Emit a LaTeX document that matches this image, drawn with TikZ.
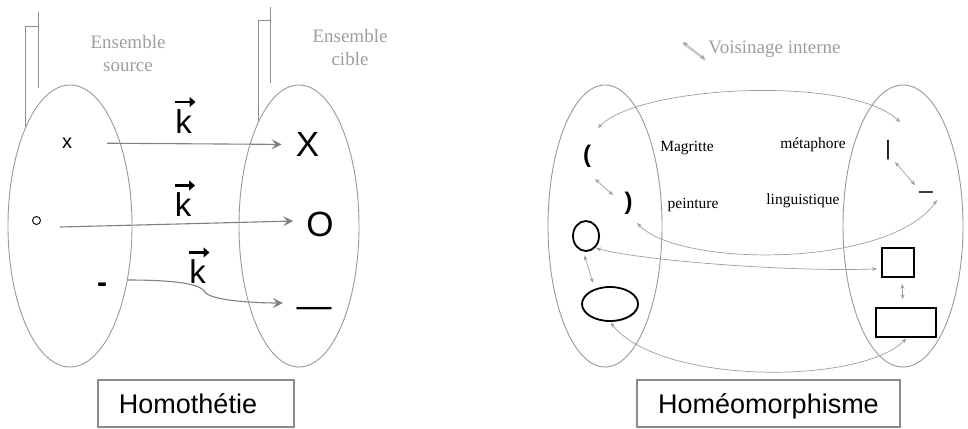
\documentclass[tikz,border=0pt]{standalone}
\usepackage{fontspec}
\setmainfont{Liberation Serif}
\setsansfont{Liberation Sans}
\usetikzlibrary{shapes.geometric,arrows.meta,shadows}
\begin{document}
\begin{tikzpicture}[x=1pt,y=-1pt,
  every node/.style={inner sep=0pt},
  setline/.style={draw=black!40, line width=0.9pt},
  callout/.style={draw=black!45, line width=1pt},
  lbl/.style={text=black!38, font=\fontsize{19}{23}\selectfont, align=center},
  garrow/.style={draw=black!50, line width=1.1pt, -{Stealth[length=10pt,width=10pt,inset=4pt]}},
  vecarrow/.style={line width=2.4pt, -{Triangle[length=6pt,width=10pt]}},
  kstyle/.style={font=\sffamily\fontsize{33}{33}\selectfont},
  big/.style={font=\sffamily\fontsize{35}{35}\selectfont},
  darrow/.style={draw=black!38, line width=0.7pt, {Stealth[length=5pt,width=4pt]}-{Stealth[length=5pt,width=4pt]}},
  word/.style={font=\fontsize{15.5}{17}\selectfont},
  symb/.style={font=\sffamily\fontsize{21}{21}\selectfont},
  paren/.style={font=\sffamily\bfseries\fontsize{24}{24}\selectfont},
  shapeline/.style={draw=black, fill=white, line width=1.8pt, drop shadow={opacity=0.18, shadow xshift=1.2pt, shadow yshift=-1.2pt}},
  titlebox/.style={draw=black!45, line width=1.2pt, font=\sffamily\fontsize{27}{27}\selectfont, text height=19.5pt, text depth=0pt}
]
\useasboundingbox (0,0) rectangle (968,428);

% ---------- Homothetie ----------
\node[ellipse, setline, minimum width=124pt, minimum height=282pt] (LA) at (70,226) {};
\node[ellipse, setline, minimum width=120pt, minimum height=282pt] (LB) at (299,226) {};

\draw[callout] (38,12) -- (38,88);
\draw[callout] (38,27) -- (25,27) -- (25,127);
\draw[callout] (270,7) -- (270,83);
\draw[callout] (270,21) -- (258,21) -- (258,121);

\node[lbl] (src) at (128,54) {Ensemble\\source};
\node[lbl] (tgt) at (350,47.5) {Ensemble\\cible};

\node[font=\sffamily\fontsize{20}{20}\selectfont] (sx) at (67,143) {x};
\node[big] (tX) at (307.5,144.5) {X};
\draw[garrow, shorten <=35pt, shorten >=14pt] (sx.east) -- (tX.west);

\node[draw, circle, minimum size=8pt, line width=0.9pt] (so) at (36.5,220.5) {};
\node[big] (tO) at (320,224) {O};
\draw[garrow] ([xshift=19pt,yshift=-6.5pt]so.east) -- ++(118,-3) -- ([xshift=-13pt,yshift=3pt]tO.west);

\node[font=\sffamily\bfseries\fontsize{30}{30}\selectfont] (sh) at (102,288) {-};
\node[big] (tD) at (314,312) {—};
\coordinate (kink) at (205,292);
\draw[garrow] ([xshift=20pt,yshift=8pt]sh.east) .. controls (170,280) and (200,283) .. (kink)
  .. controls (210,300) and (250,303) .. ([xshift=-13.5pt,yshift=9pt]tD.west);

\node[kstyle] (k1) at (183.5,121.5) {k};
\node[kstyle] (k2) at (183,205) {k};
\node[kstyle] (k3) at (197.5,272) {k};
\foreach \k in {k1,k2,k3}{
  \draw[vecarrow] ([shift={(-8.5pt,19.5pt)}]\k.center) -- ([shift={(12pt,19.5pt)}]\k.center);
}

\node[titlebox, minimum width=196pt, minimum height=47pt] (hbox) at (196,403.5) {\hspace*{-16pt}Homothétie};

% ---------- Homeomorphisme ----------
\node[ellipse, setline, minimum width=114pt, minimum height=282pt] (RA) at (605,226) {};
\node[ellipse, setline, minimum width=120pt, minimum height=282pt] (RB) at (903,226) {};

\node[lbl] (vois) at (774.5,49) {Voisinage interne};
\coordinate (v1) at (683,42);
\coordinate (v2) at (705,59);
\draw[black!12, line width=2.2pt, line cap=round] ([yshift=-1.5pt]v1) -- ([yshift=-1.5pt]v2);
\draw[darrow] (v1) -- (v2);

\node[word] (mag) at (687,148) {Magritte};
\node[word] (pei) at (693,205) {peinture};
\node[word] (met) at (813,145) {métaphore};
\node[word] (lin) at (803,201) {linguistique};

\node[paren] (lp) at (587,156.5) {(};
\node[paren] (rp) at (628.5,203.5) {)};
\node[symb] (bar) at (888,150) {|};
\node[font=\sffamily\fontsize{24}{24}\selectfont] (us) at (926,191) {\_};

\draw[darrow] ([shift={(8pt,-22.5pt)}]lp.center) -- ([shift={(26pt,-38.5pt)}]lp.center);
\draw[darrow] ([shift={(7pt,-12pt)}]bar.center) -- ([shift={(27pt,-35pt)}]bar.center);

\node[ellipse, shapeline, minimum width=26pt, minimum height=30pt] (circ) at (586,236) {};
\node[ellipse, shapeline, minimum width=56pt, minimum height=34pt] (oval) at (610,304) {};
\node[rectangle, shapeline, minimum width=32pt, minimum height=29pt] (sq) at (898,262.5) {};
\node[rectangle, shapeline, minimum width=60pt, minimum height=29pt] (rc) at (906,322.5) {};

\coordinate (t1a) at (598,128);
\coordinate (t1b) at (900,122);
\draw[darrow] (t1a) .. controls (640,85) and (850,75) .. (t1b);
\coordinate (t2a) at (637,223);
\coordinate (t2b) at (937,200);
\draw[darrow] (t2a) .. controls (680,268) and (890,268) .. (t2b);

\draw[darrow, shorten <=1pt, shorten >=4pt] (circ.-53) .. controls (650,262) and (800,272) .. (sq.-160);
\draw[darrow, shorten <=4pt, shorten >=6pt] (circ.-100) -- (oval.135);
\draw[darrow, shorten <=6pt, shorten >=8pt] ([xshift=4pt]sq.south) -- ([xshift=-3pt]rc.north);
\draw[darrow, shorten <=1pt, shorten >=1pt] (oval.south) .. controls (660,385) and (860,385) .. ([xshift=1pt]rc.south);

\node[titlebox, minimum width=263pt, minimum height=47pt] (hm) at (768.5,403.5) {Homéomorphisme};
\end{tikzpicture}
\end{document}
